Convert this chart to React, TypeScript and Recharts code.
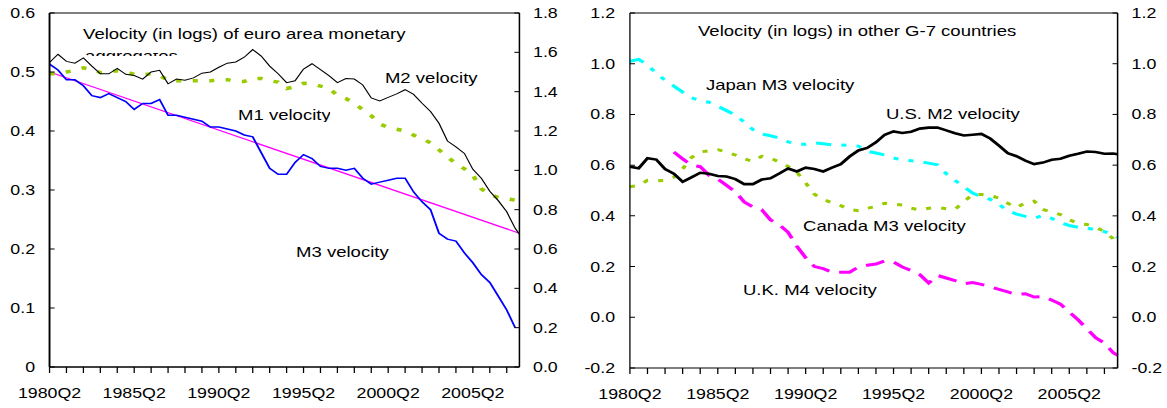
import React from 'react';
import { LineChart, Line, XAxis, YAxis, ReferenceLine } from 'recharts';

// the source picture is stretched sideways, so the whole figure is drawn narrow and scaled
const STRETCH = 1.27;
const FONT = '"Liberation Sans", Arial, sans-serif';

// half-year observations 1980Q2, 1980Q4, ... 2007Q4, then 2008Q1
const periods = Array.from({ length: 56 }, (_, i) => 1980.25 + i / 2).concat([2008]);

const yearTicks = Array.from({ length: 28 }, (_, i) => 1980.25 + i);
const xTickLabels = ['1980Q2', '1985Q2', '1990Q2', '1995Q2', '2000Q2', '2005Q2'];

const euroLeftTicks = [0, 0.1, 0.2, 0.3, 0.4, 0.5, 0.6];
const euroLeftLabels = ['0', '0.1', '0.2', '0.3', '0.4', '0.5', '0.6'];
const euroRightTicks = [0, 0.2, 0.4, 0.6, 0.8, 1.0, 1.2, 1.4, 1.6, 1.8];
const euroRightLabels = ['0.0', '0.2', '0.4', '0.6', '0.8', '1.0', '1.2', '1.4', '1.6', '1.8'];
const g7Ticks = [-0.2, 0, 0.2, 0.4, 0.6, 0.8, 1.0, 1.2];
const g7Labels = ['-0.2', '0.0', '0.2', '0.4', '0.6', '0.8', '1.0', '1.2'];

// euro area (left axis)
const euroM2 = [
  0.516, 0.530, 0.518, 0.515, 0.524, 0.510, 0.497, 0.497, 0.506, 0.496,
  0.494, 0.488, 0.500, 0.503, 0.480, 0.488, 0.486, 0.490, 0.498, 0.500,
  0.508, 0.515, 0.517, 0.525, 0.538, 0.527, 0.510, 0.497, 0.482, 0.485,
  0.505, 0.514, 0.504, 0.494, 0.482, 0.489, 0.488, 0.478, 0.456, 0.451,
  0.457, 0.463, 0.470, 0.462, 0.447, 0.433, 0.413, 0.383, 0.373, 0.362,
  0.335, 0.320, 0.298, 0.282, 0.263, 0.235, 0.225,
];
const euroM3 = [
  0.497, 0.497, 0.500, 0.503, 0.507, 0.504, 0.499, 0.500, 0.502, 0.500,
  0.496, 0.495, 0.497, 0.494, 0.486, 0.485, 0.485, 0.485, 0.485, 0.485,
  0.487, 0.487, 0.484, 0.484, 0.489, 0.489, 0.485, 0.483, 0.472, 0.475,
  0.481, 0.480, 0.476, 0.473, 0.460, 0.455, 0.447, 0.436, 0.426, 0.412,
  0.406, 0.403, 0.400, 0.393, 0.387, 0.380, 0.368, 0.356, 0.345, 0.336,
  0.325, 0.302, 0.293, 0.287, 0.285, 0.283, 0.283,
];
// euro area (right axis)
const euroM1 = [
  1.54, 1.51, 1.46, 1.46, 1.43, 1.38, 1.37, 1.39, 1.37, 1.35,
  1.31, 1.34, 1.34, 1.36, 1.28, 1.28, 1.27, 1.26, 1.25, 1.22,
  1.22, 1.21, 1.20, 1.18, 1.17, 1.09, 1.01, 0.98, 0.98, 1.04,
  1.08, 1.06, 1.02, 1.01, 1.01, 1.00, 1.01, 0.96, 0.93, 0.94,
  0.95, 0.96, 0.96, 0.89, 0.84, 0.80, 0.68, 0.65, 0.64, 0.58,
  0.53, 0.47, 0.43, 0.36, 0.29, 0.20, null,
];
const euroM1Trend = periods.map((_, i) => (i === 0 ? 1.5 : i === periods.length - 1 ? 0.68 : null));

// other G-7
const usM2 = [
  0.594, 0.588, 0.627, 0.622, 0.585, 0.566, 0.534, 0.552, 0.570, 0.566,
  0.557, 0.555, 0.545, 0.525, 0.525, 0.543, 0.548, 0.567, 0.587, 0.575,
  0.590, 0.585, 0.575, 0.590, 0.604, 0.634, 0.658, 0.668, 0.690, 0.720,
  0.733, 0.727, 0.732, 0.744, 0.748, 0.748, 0.737, 0.726, 0.717, 0.720,
  0.723, 0.705, 0.677, 0.647, 0.635, 0.618, 0.604, 0.610, 0.621, 0.625,
  0.637, 0.645, 0.654, 0.652, 0.645, 0.646, 0.643,
];
const japanM3 = [
  1.010, 1.017, 0.995, 0.962, 0.935, 0.912, 0.888, 0.866, 0.854, 0.848,
  0.832, 0.815, 0.798, 0.770, 0.740, 0.723, 0.716, 0.706, 0.692, 0.683,
  0.682, 0.688, 0.684, 0.680, 0.680, 0.678, 0.675, 0.655, 0.648, 0.640,
  0.628, 0.620, 0.617, 0.614, 0.608, 0.601, 0.566, 0.540, 0.514, 0.490,
  0.475, 0.465, 0.445, 0.420, 0.407, 0.398, 0.390, 0.402, 0.390, 0.373,
  0.362, 0.355, 0.352, 0.345, 0.338, 0.325, 0.315,
];
const canadaM3 = [
  0.515, 0.520, 0.540, 0.538, 0.540, 0.552, 0.585, 0.630, 0.652, 0.657,
  0.661, 0.652, 0.640, 0.625, 0.615, 0.635, 0.628, 0.612, 0.595, 0.572,
  0.530, 0.485, 0.465, 0.452, 0.440, 0.425, 0.420, 0.430, 0.437, 0.450,
  0.446, 0.443, 0.430, 0.423, 0.430, 0.433, 0.428, 0.426, 0.455, 0.485,
  0.484, 0.480, 0.470, 0.450, 0.432, 0.452, 0.458, 0.425, 0.415, 0.405,
  0.385, 0.370, 0.366, 0.355, 0.338, 0.310, 0.285,
];
const ukM4 = [
  null, null, null, null, null, 0.652, 0.625, 0.600, 0.594, 0.560,
  0.545, 0.520, 0.495, 0.455, 0.435, 0.424, 0.384, 0.365, 0.335, 0.280,
  0.235, 0.200, 0.192, 0.178, 0.178, 0.178, 0.198, 0.205, 0.210, 0.222,
  0.218, 0.198, 0.185, 0.168, 0.135, 0.165, 0.155, 0.145, 0.132, 0.137,
  0.130, 0.120, 0.110, 0.100, 0.090, 0.093, 0.080, 0.082, 0.068, 0.052,
  0.020, -0.010, -0.045, -0.080, -0.102, -0.140, -0.150,
];

const euroData = periods.map((t, i) => ({
  t, m2: euroM2[i], m3: euroM3[i], m1: euroM1[i], trend: euroM1Trend[i],
}));
const g7Data = periods.map((t, i) => ({
  t, us: usM2[i], japan: japanM3[i], canada: canadaM3[i], uk: ukM4[i],
}));

const yearLabel = (v: number) => {
  const i = Math.round(v - 1980.25);
  return i % 5 === 0 ? xTickLabels[i / 5] : '';
};
const labelFrom = (ticks: number[], labels: string[]) => (v: number) => labels[ticks.indexOf(v)] ?? '';

const tickText = { fill: '#000', fontSize: 14, fontFamily: FONT };

function Note({ left, top, clip, shift = 0, children }: any) {
  return (
    <div
      style={{
        position: 'absolute', left, top, height: clip, overflow: clip ? 'hidden' : 'visible',
        fontSize: 14.6, lineHeight: '14.6px', fontFamily: FONT, whiteSpace: 'nowrap', color: '#000',
      }}
    >
      <div style={{ position: 'relative', top: shift }}>{children}</div>
    </div>
  );
}

function EuroChart() {
  const axis = { stroke: '#000', strokeWidth: 1.5 };
  return (
    <LineChart width={452} height={408} data={euroData} margin={{ top: 13, right: 3, bottom: 11, left: 0 }}>
      <XAxis
        dataKey="t" type="number" domain={[1980.25, 2008]} ticks={yearTicks} interval={0}
        tickFormatter={yearLabel} tick={tickText} tickSize={6} tickMargin={15.5} height={30}
        axisLine={axis} tickLine={{ stroke: '#000' }}
      />
      <YAxis
        yAxisId="left" domain={[0, 0.6]} ticks={euroLeftTicks} interval={0} width={39}
        tickFormatter={labelFrom(euroLeftTicks, euroLeftLabels)} tick={tickText}
        tickSize={-4} tickMargin={15.4} axisLine={axis} tickLine={{ stroke: '#000' }}
      />
      <YAxis
        yAxisId="right" orientation="right" domain={[0, 1.8]} ticks={euroRightTicks} interval={0} width={40}
        tickFormatter={labelFrom(euroRightTicks, euroRightLabels)} tick={tickText}
        tickSize={-4} tickMargin={14.7} axisLine={{ stroke: '#000', strokeWidth: 1.2 }} tickLine={{ stroke: '#000' }}
      />
      <ReferenceLine yAxisId="left" y={0.6} stroke="#000" strokeWidth={1} />
      <Line yAxisId="right" dataKey="trend" stroke="#ff00ff" strokeWidth={1.3} dot={false} connectNulls isAnimationActive={false} />
      <Line yAxisId="left" dataKey="m3" stroke="#99cc00" strokeWidth={3.5} strokeDasharray="4 9" dot={false} isAnimationActive={false} />
      <Line yAxisId="left" dataKey="m2" stroke="#000" strokeWidth={1} dot={false} isAnimationActive={false} />
      <Line yAxisId="right" dataKey="m1" stroke="#0000ff" strokeWidth={1.5} dot={false} isAnimationActive={false} />
    </LineChart>
  );
}

function G7Chart() {
  const axis = { stroke: '#000', strokeWidth: 1 };
  return (
    <LineChart width={464} height={408} data={g7Data} margin={{ top: 13, right: 0, bottom: 10, left: 0 }}>
      <XAxis
        dataKey="t" type="number" domain={[1980.25, 2008]} ticks={yearTicks} interval={0}
        tickFormatter={yearLabel} tick={tickText} tickSize={6} tickMargin={15.5} height={30}
        axisLine={axis} tickLine={{ stroke: '#000' }}
      />
      <YAxis
        yAxisId="left" domain={[-0.2, 1.2]} ticks={g7Ticks} interval={0} width={41}
        tickFormatter={labelFrom(g7Ticks, g7Labels)} tick={tickText}
        tickSize={-4} tickMargin={15.7} axisLine={axis} tickLine={{ stroke: '#000' }}
      />
      <YAxis
        yAxisId="right" orientation="right" domain={[-0.2, 1.2]} ticks={g7Ticks} interval={0} width={39}
        tickFormatter={labelFrom(g7Ticks, g7Labels)} tick={tickText}
        tickSize={-4} tickMargin={15} axisLine={{ stroke: '#000', strokeWidth: 1.2 }} tickLine={{ stroke: '#000' }}
      />
      <ReferenceLine yAxisId="left" y={1.2} stroke="#000" strokeWidth={1} />
      <Line yAxisId="left" dataKey="japan" stroke="#00ffff" strokeWidth={3} strokeDasharray="12 8 4 8 4 8" dot={false} isAnimationActive={false} />
      <Line yAxisId="left" dataKey="canada" stroke="#99cc00" strokeWidth={3} strokeDasharray="4 8" dot={false} isAnimationActive={false} />
      <Line yAxisId="left" dataKey="uk" stroke="#ff00ff" strokeWidth={3} strokeDasharray="15 8" dot={false} isAnimationActive={false} />
      <Line yAxisId="right" dataKey="us" stroke="#000" strokeWidth={2.6} dot={false} isAnimationActive={false} />
    </LineChart>
  );
}

export default function App() {
  return (
    <div style={{ position: 'absolute', left: 0, top: 0, width: 1167, height: 408, overflow: 'hidden', background: '#fff' }}>
      <div style={{ position: 'relative', width: 920, height: 408, transform: `scaleX(${STRETCH})`, transformOrigin: '0 0' }}>
        <div style={{ position: 'absolute', left: 0, top: 0 }}>
          <EuroChart />
        </div>
        <div style={{ position: 'absolute', left: 455, top: 0 }}>
          <G7Chart />
        </div>

        <Note left={65.4} top={26.6}>Velocity (in logs) of euro area monetary</Note>
        <Note left={67} top={52.5} clip={3.5} shift={-4}>aggregates</Note>
        <Note left={303.1} top={70.8}>M2 velocity</Note>
        <Note left={187.4} top={108.3} clip={14}>M1 velocity</Note>
        <Note left={233.1} top={245}>M3 velocity</Note>

        <Note left={549.6} top={24.3}>Velocity (in logs) in other G-7 countries</Note>
        <Note left={555.9} top={77.8}>Japan M3 velocity</Note>
        <Note left={697.6} top={106.6}>U.S. M2 velocity</Note>
        <Note left={632.3} top={219}>Canada M3 velocity</Note>
        <Note left={585} top={282.6}>U.K. M4 velocity</Note>
      </div>
    </div>
  );
}
